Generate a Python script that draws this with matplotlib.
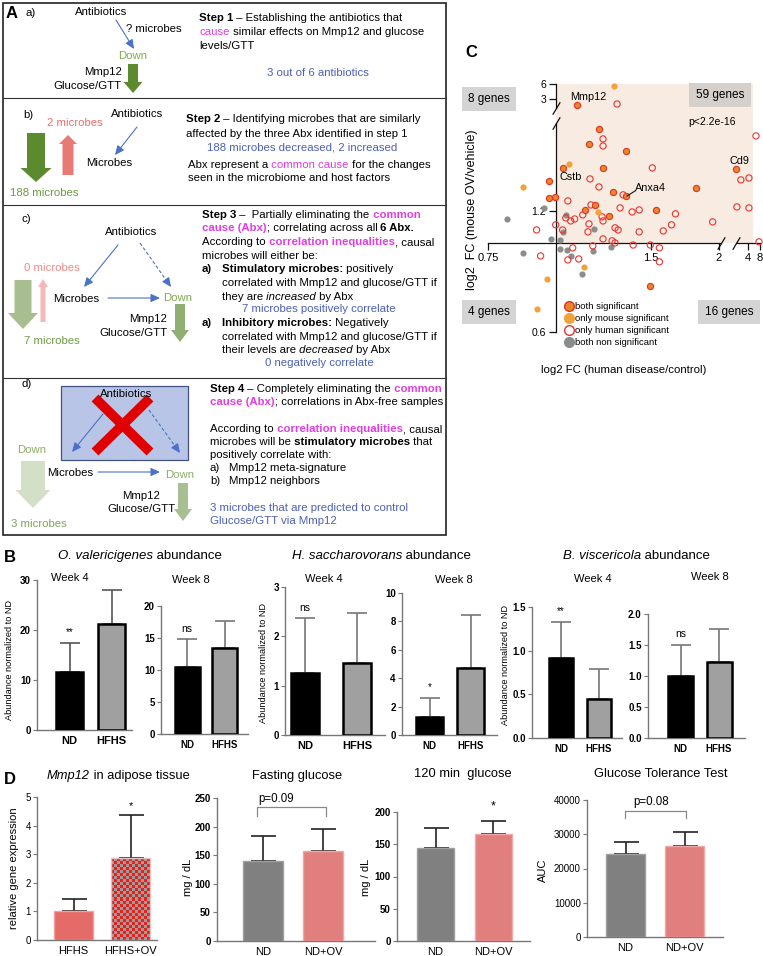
import numpy as np
import matplotlib
matplotlib.use("Agg")
import matplotlib.pyplot as plt
from matplotlib.patches import FancyArrow, Rectangle
from matplotlib.lines import Line2D
from matplotlib.path import Path

plt.rcParams['font.family'] = ['Liberation Sans', 'DejaVu Sans']

# ---------------- DATA ----------------
# Panel B (mean, sd) : ND, HFHS
b_groups = ["ND", "HFHS"]
b1_mean = [11.6, 21.2]; b1_sd = [5.8, 6.8]     # O. valericigenes week 4
b2_mean = [10.5, 13.4]; b2_sd = [4.3, 4.3]     # O. valericigenes week 8
b3_mean = [1.25, 1.46]; b3_sd = [1.12, 1.01]   # H. saccharovorans week 4
b4_mean = [1.27, 4.70]; b4_sd = [1.33, 3.75]   # H. saccharovorans week 8
b5_mean = [0.92, 0.445]; b5_sd = [0.41, 0.34]  # B. viscericola week 4
b6_mean = [1.00, 1.23]; b6_sd = [0.50, 0.53]   # B. viscericola week 8
b_sig = ["**", "ns", "ns", "*", "**", "ns"]

# Panel D
d1_groups = ["HFHS", "HFHS+OV"]; d1_mean = [1.0, 2.85]; d1_sd = [0.42, 1.52]
d_groups = ["ND", "ND+OV"]
d2_mean = [139, 157]; d2_sd = [45, 38]
d3_mean = [144, 166]; d3_sd = [31, 20]
d4_mean = [24200, 26500]; d4_sd = [3500, 4100]

# Panel C scatter (fold changes)
both_x = [1.094, 1.202, 1.152, 1.349, 1.030, 1.223, 3.0, 0.970, 1.276, 1.349, 1.813, 0.970, 0.996, 1.182, 1.132, 1.534, 1.254, 1.495]
both_y = [2.59, 1.921, 1.763, 1.694, 1.537, 1.537, 1.528, 1.426, 1.339, 1.309, 1.370, 1.294, 1.302, 1.243, 1.208, 1.208, 1.167, 0.782]
mouse_x = [1.282, 1.057, 0.872, 1.197, 1.127, 0.962, 0.922]
mouse_y = [5.47, 1.572, 1.378, 1.194, 0.872, 0.814, 0.685]
human_x = [1.298, 1.223, 1.223, 6.35, 1.508, 4.24, 3.38, 1.157, 1.202, 1.332, 1.053, 1.162, 1.315, 1.384, 1.426, 1.664,
           1.949, 3.08, 4.24, 1.044, 1.066, 1.084, 1.122, 1.218, 1.223, 1.152, 1.0, 1.030, 1.147, 1.287, 1.304, 1.426,
           1.580, 1.636, 0.922, 1.223, 1.271, 1.287, 1.390, 1.495, 1.554, 7.55, 1.075, 1.171, 0.938, 1.053, 1.103, 1.554]
human_y = [2.65, 1.815, 1.743, 1.846, 1.537, 1.451, 1.435, 1.443, 1.378, 1.317, 1.272, 1.243, 1.222, 1.194, 1.208, 1.181,
           1.128, 1.229, 1.222, 1.154, 1.134, 1.147, 1.174, 1.161, 1.134, 1.115, 1.109, 1.077, 1.065, 1.090, 1.077, 1.065,
           1.071, 1.109, 1.077, 1.023, 1.012, 1.0, 0.988, 0.988, 0.972, 1.006, 0.972, 0.983, 0.928, 0.907, 0.912, 0.897]
gray_x = [0.950, 0.814, 1.044, 1.030, 1.177, 0.979, 1.017, 1.017, 1.048, 1.171, 1.266, 0.872, 1.066, 1.117]
gray_y = [1.222, 1.147, 1.174, 1.065, 1.084, 1.023, 1.017, 0.966, 0.961, 0.955, 0.977, 0.944, 0.928, 0.837]
c_xticks = [0.75, 1.5, 2, 4, 8]; c_xticklabels = ["0.75", "1.5", "2", "4", "8"]
c_yticks = [0.6, 1.2, 3, 6]; c_yticklabels = ["0.6", "1.2", "3", "6"]

# ---------------- FIGURE ----------------
W, H = 763, 956
fig = plt.figure(figsize=(W / 100, H / 100), dpi=100)


def box(l, t, r, b):
    return [l / W, 1 - b / H, (r - l) / W, (b - t) / H]


ov = fig.add_axes([0, 0, 1, 1], zorder=10)
ov.set_xlim(0, W); ov.set_ylim(H, 0); ov.axis('off')

FS = 8.2
MAG = '#e03ee0'
BLU = '#4b5fb4'
ARB = '#4a72c8'
N = {}
B = {'fontweight': 'bold'}
MB = {'fontweight': 'bold', 'color': MAG}
M = {'color': MAG}
I = {'fontstyle': 'italic'}


def rich(x, y, runs, fs=FS):
    t = None
    for s, kw in runs:
        if t is None:
            t = ov.text(x, y, s, fontsize=fs, va='center', ha='left', **kw)
        else:
            t = ov.annotate(s, xy=(1, 0), xycoords=t, va='bottom', ha='left', fontsize=fs, **kw)
    return t


def txt(x, y, s, fs=FS, ha='left', **kw):
    return ov.text(x, y, s, fontsize=fs, ha=ha, va='center', **kw)


def block(x, y0, y1, shaft, head, hl, color):
    ov.add_patch(FancyArrow(x, y0, 0, y1 - y0, width=shaft, head_width=head, head_length=hl,
                            length_includes_head=True, color=color, lw=0))


def thin(x0, y0, x1, y1, dashed=False):
    if dashed:
        v = np.array([x1 - x0, y1 - y0]); v = v / np.hypot(*v)
        ov.plot([x0, x1 - 6 * v[0]], [y0, y1 - 6 * v[1]], color=ARB, lw=0.8, ls=(0, (3, 2)))
        ov.annotate('', xy=(x1, y1), xytext=(x1 - 7 * v[0], y1 - 7 * v[1]),
                    arrowprops=dict(arrowstyle='-|>,head_length=0.55,head_width=0.25', color=ARB, lw=0.8,
                                    shrinkA=0, shrinkB=0))
    else:
        ov.annotate('', xy=(x1, y1), xytext=(x0, y0),
                    arrowprops=dict(arrowstyle='-|>,head_length=0.55,head_width=0.25', color=ARB, lw=0.8,
                                    shrinkA=0, shrinkB=0))


# ---------------- PANEL A ----------------
ov.add_patch(Rectangle((3, 3), 443, 532, fill=False, ec='#222222', lw=1.2))
for yy in (98, 205, 378):
    ov.plot([3, 446], [yy, yy], color='#333333', lw=0.8)

txt(6, 13, "A", fs=12, fontweight='bold')
# a)
txt(26, 13, "a)")
txt(101, 12, "Antibiotics", ha='center')
txt(126, 29, "? microbes")
thin(116, 20, 134, 49)
txt(133, 56, "Down", ha='center', color='#7faa4f')
txt(122, 72, "Mmp12", ha='right')
txt(122, 86, "Glucose/GTT", ha='right')
block(133, 64, 93, 10, 19, 11, '#5b8a2f')
rich(199, 18, [("Step 1", B), (" – Establishing the antibiotics that", N)])
rich(199, 32, [("cause", M), (" similar effects on Mmp12 and glucose", N)])
rich(199, 46, [("levels/GTT", N)])
txt(318, 73, "3 out of 6 antibiotics", ha='center', color=BLU)

# b)
txt(23, 115, "b)")
txt(75, 123, "2 microbes", ha='center', color='#e8706a')
txt(137, 114, "Antibiotics", ha='center')
thin(137, 127, 115, 155)
txt(109, 163, "Microbes", ha='center')
block(36, 133, 182, 18, 31, 14, '#5b8a2f')
block(68, 175, 135, 11, 18, 9, '#e87a74')
txt(44, 193, "188 microbes", ha='center', color='#6a9a3c')
rich(186, 119, [("Step 2", B), (" – Identifying microbes that are similarly", N)])
rich(186, 134, [("affected by the three Abx identified in step 1", N)])
txt(302, 147, "188 microbes decreased, 2 increased", ha='center', color=BLU)
rich(188, 165, [("Abx represent a", N), (" common cause", M), (" for the changes", N)])
rich(188, 178, [("seen in the microbiome and host factors", N)])

# c)
txt(21, 219, "c)")
txt(131, 232, "Antibiotics", ha='center')
thin(118, 245, 84, 287)
thin(140, 243, 171, 287, dashed=True)
txt(52, 268, "0 microbes", ha='center', color='#ee8a86')
block(43, 322, 279, 5, 10, 8, '#f5b8b8')
block(23, 280, 329, 17, 30, 16, '#a8be90')
txt(52, 341, "7 microbes", ha='center', color='#6d9a45')
txt(76, 299, "Microbes", ha='center')
thin(108, 298, 160, 298)
txt(178, 298, "Down", ha='center', color='#7faa4f')
txt(167, 319, "Mmp12", ha='right')
txt(167, 333, "Glucose/GTT", ha='right')
block(180, 304, 342, 10, 18, 12, '#8fb072')
rich(202, 215, [("Step 3", B), (" –  Partially eliminating the", N), (" common", MB)])
rich(202, 228, [("cause (Abx)", MB), ("; correlating across all", N), (" 6 Abx.", B)])
rich(202, 242, [("According to", N), (" correlation inequalities", MB), (", causal", N)])
rich(202, 256, [("microbes will either be:", N)])
rich(202, 269, [("a)", B)])
rich(222, 269, [("Stimulatory microbes:", B), (" positively", N)])
rich(222, 283, [("correlated with Mmp12 and glucose/GTT if", N)])
rich(222, 297, [("they are", N), (" increased", I), (" by Abx", N)])
txt(319, 309, "7 microbes positively correlate", ha='center', color=BLU)
rich(202, 323, [("a)", B)])
rich(222, 323, [("Inhibitory microbes:", B), (" Negatively", N)])
rich(222, 337, [("correlated with Mmp12 and glucose/GTT if", N)])
rich(222, 350, [("their levels are", N), (" decreased", I), (" by Abx", N)])
txt(319, 363, "0 negatively correlate", ha='center', color=BLU)

# d)
txt(21, 384, "d)")
ov.add_patch(Rectangle((61, 386), 127, 74, fc='#b9c5e7', ec='#44527f', lw=0.9))
txt(126, 394, "Antibiotics", ha='center')
thin(103, 414, 72, 452)
thin(149, 410, 180, 453, dashed=True)
ov.plot([95, 150], [398, 452], color='#e00000', lw=7, solid_capstyle='butt')
ov.plot([150, 95], [398, 452], color='#e00000', lw=7, solid_capstyle='butt')
txt(32, 450, "Down", ha='center', color='#8cae66')
block(33, 461, 508, 24, 35, 18, '#d3dfc6')
txt(39, 524, "3 microbes", ha='center', color='#7ea25a')
txt(70, 473, "Microbes", ha='center')
thin(98, 472, 160, 472)
txt(180, 475, "Down", ha='center', color='#8cae66')
txt(141, 496, "Mmp12", ha='center')
txt(141, 509, "Glucose/GTT", ha='center')
block(183, 483, 521, 10, 18, 12, '#a7bf93')
rich(210, 389, [("Step 4", B), (" – Completely eliminating the", N), (" common", MB)])
rich(210, 402, [("cause (Abx)", MB), ("; correlations in Abx-free samples", N)])
rich(210, 429, [("According to", N), (" correlation inequalities", MB), (", causal", N)])
rich(210, 442, [("microbes will be", N), (" stimulatory microbes", B), (" that", N)])
rich(210, 455, [("positively correlate with:", N)])
txt(210, 468, "a)"); txt(229, 468, "Mmp12 meta-signature")
txt(210, 481, "b)"); txt(229, 481, "Mmp12 neighbors")
txt(210, 508, "3 microbes that are predicted to control", color=BLU)
txt(210, 521, "Glucose/GTT via Mmp12", color=BLU)

# ---------------- PANEL C ----------------
LX_K = [-4, 1, 2, 3, 6]
DX_K = [-4, 1, 1 + 29 / 162, 1 + 41 / 162, 1 + 41 / 162 + 3 * 12 / 162]
LY_K = [-4, np.log2(2.1), np.log2(3), np.log2(6), 5]
DY_K = [-4, np.log2(2.1), 1.190, 1.314, 1.6]


def fx(x):
    return np.interp(np.log2(np.clip(x, 1e-6, None)), LX_K, DX_K)


def ix(d):
    return 2 ** np.interp(d, DX_K, LX_K)


def fy(y):
    return np.interp(np.log2(np.clip(y, 1e-6, None)), LY_K, DY_K)


def iy(d):
    return 2 ** np.interp(d, DY_K, LY_K)


axC = fig.add_axes(box(488, 84, 760, 332))
axC.set_xscale('function', functions=(fx, ix))
axC.set_yscale('function', functions=(fy, iy))
axC.set_xlim(0.75, 8); axC.set_ylim(0.6, 6)
axC.patch.set_alpha(0)
axC.fill_between([1, 5.34], 1, 6.2, color='#f8ece2', lw=0, zorder=0)
for s in ('top', 'right'):
    axC.spines[s].set_visible(False)
axC.spines['left'].set_position(('data', 1)); axC.spines['left'].set_color('none')
axC.spines['bottom'].set_position(('data', 1)); axC.spines['bottom'].set_color('none')
lk = dict(color='#111111', lw=0.9, clip_on=False, zorder=1)
axC.plot([1, 1], [0.6, 1.99], **lk); axC.plot([1, 1], [2.41, 6], **lk)
axC.plot([0.75, 2.1], [1, 1], **lk); axC.plot([3.0, 8], [1, 1], **lk)
slash = Path([(-0.6, -1), (0.6, 1)])
axC.plot([1, 1], [1.99, 2.41], ls='none', marker=slash, ms=9, mfc='none', mec='#111111', mew=0.9, clip_on=False)
axC.plot([2.1, 3.0], [1, 1], ls='none', marker=slash, ms=9, mfc='none', mec='#111111', mew=0.9, clip_on=False)
axC.set_xticks(c_xticks, c_xticklabels)
axC.set_yticks(c_yticks, c_yticklabels)
axC.xaxis.set_minor_locator(matplotlib.ticker.NullLocator())
axC.yaxis.set_minor_locator(matplotlib.ticker.NullLocator())
axC.tick_params(direction='out', length=5, width=0.9, color='#111111', labelsize=8, pad=2)
axC.tick_params(axis='y', labelsize=7.5)
S = 20
axC.scatter(gray_x, gray_y, s=S, c='#8c8c8c', lw=0, zorder=3, clip_on=False)
axC.scatter(human_x, human_y, s=S, facecolors='none', edgecolors='#e8342c', lw=0.8, zorder=3, clip_on=False)
axC.scatter(mouse_x, mouse_y, s=S, c='#f0a33c', lw=0, zorder=4, clip_on=False)
axC.scatter(both_x, both_y, s=S, c='#e8862e', edgecolors='#e03322', lw=0.8, zorder=4, clip_on=False)

handles = [Line2D([], [], ls='none', marker='o', ms=7, mfc='#e8862e', mec='#e03322', mew=1.0),
           Line2D([], [], ls='none', marker='o', ms=7, mfc='#f0a33c', mec='#f0a33c'),
           Line2D([], [], ls='none', marker='o', ms=7, mfc='none', mec='#e8342c', mew=1.0),
           Line2D([], [], ls='none', marker='o', ms=7, mfc='#8c8c8c', mec='#8c8c8c')]
fig.legend(handles, ["both significant", "only mouse significant", "only human significant", "both non significant"],
           loc='upper left', bbox_to_anchor=(565 / W, 1 - 302 / H), frameon=False, fontsize=6.8,
           handlelength=0.8, handletextpad=0.3, labelspacing=0.32, borderpad=0, borderaxespad=0)

txt(465, 52, "C", fs=12, fontweight='bold')
gb = dict(boxstyle='square,pad=0.55', fc='#d4d4d4', ec='none')
txt(489, 99, "8 genes", fs=8.5, ha='center', bbox=gb)
txt(720, 95, "59 genes", fs=8.5, ha='center', bbox=dict(boxstyle='square,pad=0.55', fc='#d5d0cc', ec='none'))
txt(489, 312, "4 genes", fs=8.5, ha='center', bbox=gb)
txt(729, 312, "16 genes", fs=8.5, ha='center', bbox=gb)
txt(688, 122, "p<2.2e-16", fs=7.5)
txt(570, 97, "Mmp12", fs=7.8)
txt(560, 177, "Cstb", fs=7.8)
txt(635, 188, "Anxa4", fs=7.8)
ov.plot([627, 635], [196, 191], color='#111111', lw=0.8)
txt(730, 161, "Cd9", fs=7.8)
txt(472, 210, "log2  FC (mouse OV/vehicle)", fs=9, ha='center', rotation=90)
txt(624, 370, "log2 FC (human disease/control)", fs=8.2, ha='center')


# ---------------- BAR PANELS ----------------
def bar_panel(l, t, r, b, c0, c1, wpx, ymax, yticks, yticklabels, means, sds, groups, fcs, ecs, elw,
              ecol, cap, tick_bold, xl_bold, xl_fs, spine_col='#777777', ytl_fs=7):
    ax = fig.add_axes(box(l, t, r, b))
    unit = c1 - c0
    ax.set_xlim(-(c0 - l) / unit, 1 + (r - c1) / unit)
    ax.set_ylim(0, ymax)
    x = np.arange(len(means))
    bars = ax.bar(x, means, width=wpx / unit, color=fcs, edgecolor=ecs, linewidth=elw, zorder=3)
    ax.errorbar(x, means, yerr=[np.zeros(len(means)), sds], fmt='none', ecolor=ecol, elinewidth=1.2,
                capsize=cap, capthick=1.2, zorder=2, clip_on=False)
    ax.patch.set_alpha(0)
    for s in ('top', 'right'):
        ax.spines[s].set_visible(False)
    for s in ('left', 'bottom'):
        ax.spines[s].set_color(spine_col); ax.spines[s].set_linewidth(1.0)
    ax.set_yticks(yticks, yticklabels)
    ax.set_xticks(x, groups)
    ax.tick_params(axis='y', length=3, color=spine_col, labelsize=ytl_fs, pad=1.5)
    ax.tick_params(axis='x', length=0, labelsize=xl_fs, pad=4)
    for lab in ax.get_yticklabels():
        lab.set_fontweight('bold' if tick_bold else 'normal')
    for lab in ax.get_xticklabels():
        lab.set_fontweight('bold' if xl_bold else 'normal')
    return ax, bars


BFC = ['#000000', '#a0a0a0']
BEC = ['#000000', '#000000']
axes_b = []
axes_b.append(bar_panel(37, 580, 132, 730, 69.5, 111.5, 27, 30, [0, 10, 20, 30], ["0", "10", "20", "30"],
                        b1_mean, b1_sd, b_groups, BFC, BEC, 1.8, '#555555', 7, True, True, 8)[0])
axes_b.append(bar_panel(161, 606, 248, 734, 187, 224.5, 25, 20, [0, 5, 10, 15, 20], ["0", "5", "10", "15", "20"],
                        b2_mean, b2_sd, b_groups, BFC, BEC, 1.8, '#777777', 7, True, True, 7)[0])
axes_b.append(bar_panel(285, 587, 385, 735, 305, 357, 28, 3, [0, 1, 2, 3], ["0", "1", "2", "3"],
                        b3_mean, b3_sd, b_groups, BFC, BEC, 1.8, '#777777', 7, True, True, 8)[0])
axes_b.append(bar_panel(402, 593, 497, 735, 429.5, 470.5, 27, 10, [0, 2, 4, 6, 8, 10],
                        ["0", "2", "4", "6", "8", "10"],
                        b4_mean, b4_sd, b_groups, BFC, BEC, 1.8, '#777777', 7, True, True, 7)[0])
axes_b.append(bar_panel(532, 607, 622, 738, 561, 599, 24, 1.5, [0, 0.5, 1.0, 1.5], ["0.0", "0.5", "1.0", "1.5"],
                        b5_mean, b5_sd, b_groups, BFC, BEC, 1.8, '#777777', 7, True, True, 7)[0])
axes_b.append(bar_panel(648, 614, 745, 738, 680.5, 719, 25, 2.0, [0, 0.5, 1.0, 1.5, 2.0],
                        ["0.0", "0.5", "1.0", "1.5", "2.0"],
                        b6_mean, b6_sd, b_groups, BFC, BEC, 1.8, '#777777', 7, True, True, 7)[0])
b_all_mean = [b1_mean, b2_mean, b3_mean, b4_mean, b5_mean, b6_mean]
b_all_sd = [b1_sd, b2_sd, b3_sd, b4_sd, b5_sd, b6_sd]
for ax, m, sd, sg in zip(axes_b, b_all_mean, b_all_sd, b_sig):
    ax.annotate(sg, xy=(0, m[0] + sd[0]), xytext=(0, 4), textcoords='offset points', ha='center',
                va='bottom', fontsize=7.5 if sg == 'ns' else 7, annotation_clip=False)

txt(4, 557, "B", fs=12, fontweight='bold')
rich(58, 556, [("O. valericigenes", I), (" abundance", N)], fs=9.5)
rich(292, 556, [("H. saccharovorans", I), (" abundance", N)], fs=9.5)
rich(563, 556, [("B. viscericola", I), (" abundance", N)], fs=9.5)
for xw, yw, s in [(70, 578, "Week 4"), (191, 580, "Week 8"), (324, 579, "Week 4"), (454, 580, "Week 8"),
                  (593, 579, "Week 4"), (710, 577, "Week 8")]:
    txt(xw, yw, s, fs=8, ha='center')
for xl_, yl_ in [(10, 660), (264, 663), (506, 665)]:
    txt(xl_, yl_, "Abundance normalized to ND", fs=6.6, ha='center', rotation=90)

# ---------------- PANEL D ----------------
DC = ['#808080', '#e17e7e']
DE = ['#a0a0a0', '#f0a8a8']
axd1, bars_d1 = bar_panel(37, 797, 157, 940, 73.5, 130.5, 39, 5, [0, 1, 2, 3, 4, 5],
                          ["0", "1", "2", "3", "4", "5"], d1_mean, d1_sd, d1_groups,
                          ['#e46b67', 'none'], ['#f3a19c', '#e8c0c0'], 1.0, '#222222', 9, False, False, 8)
# checker pattern for HFHS+OV bar
bar = bars_d1[1]
bx, bw, bh = bar.get_x(), bar.get_width(), bar.get_height()
chk = (np.add.outer(np.arange(27), np.arange(13)) % 2).astype(float)
from matplotlib.colors import ListedColormap
im = axd1.imshow(chk, extent=[bx, bx + bw, 0, bh], cmap=ListedColormap(['#e8201c', '#9c9c9c']),
                 interpolation='nearest', aspect='auto', zorder=2.5)
im.set_clip_path(bar)
axd1.set_xlim(-(73.5 - 37) / 57, 1 + (157 - 130.5) / 57); axd1.set_ylim(0, 5)
axd1.annotate("*", xy=(1, d1_mean[1] + d1_sd[1]), xytext=(0, 3), textcoords='offset points', ha='center',
              va='bottom', fontsize=8)

axd2, _ = bar_panel(217, 798, 375, 941, 263, 323, 40, 250, [0, 50, 100, 150, 200, 250],
                    ["0", "50", "100", "150", "200", "250"], d2_mean, d2_sd, d_groups, DC, DE, 1.0,
                    '#222222', 9, True, False, 8)
axd3, _ = bar_panel(397, 812, 530, 941, 435.5, 493, 37, 200, [0, 50, 100, 150, 200],
                    ["0", "50", "100", "150", "200"], d3_mean, d3_sd, d_groups, DC, DE, 1.0,
                    '#222222', 9, True, False, 8)
axd3.annotate("*", xy=(1, d3_mean[1] + d3_sd[1]), xytext=(0, 6), textcoords='offset points', ha='center',
              va='bottom', fontsize=9)
axd4, _ = bar_panel(587, 800, 723, 937, 625.5, 684.5, 39, 40000, [0, 10000, 20000, 30000, 40000],
                    ["0", "10000", "20000", "30000", "40000"], d4_mean, d4_sd, d_groups, DC, DE, 1.0,
                    '#222222', 9, False, False, 8)

# brackets
ov.plot([257, 257, 326, 326], [816, 807, 807, 816], color='#888888', lw=0.9)
txt(276, 799, "p=0.09", fs=8.3, ha='center')
ov.plot([625, 625, 686, 686], [818, 811, 811, 818], color='#888888', lw=0.9)
txt(651, 802, "p=0.08", fs=8.3, ha='center')

txt(4, 780, "D", fs=12, fontweight='bold')
rich(47, 776, [("Mmp12", I), (" in adipose tissue", N)], fs=9.3)
txt(297, 776, "Fasting glucose", fs=9.3, ha='center')
txt(463, 774, "120 min  glucose", fs=9.3, ha='center')
txt(661, 774, "Glucose Tolerance Test", fs=9.3, ha='center')
txt(14, 868, "relative gene expression", fs=8, ha='center', rotation=90)
txt(188, 877, "mg / dL", fs=8, ha='center', rotation=90)
txt(366, 877, "mg / dL", fs=8, ha='center', rotation=90)
txt(543, 870, "AUC", fs=8, ha='center', rotation=90)

fig.savefig("out.png", dpi=100)
